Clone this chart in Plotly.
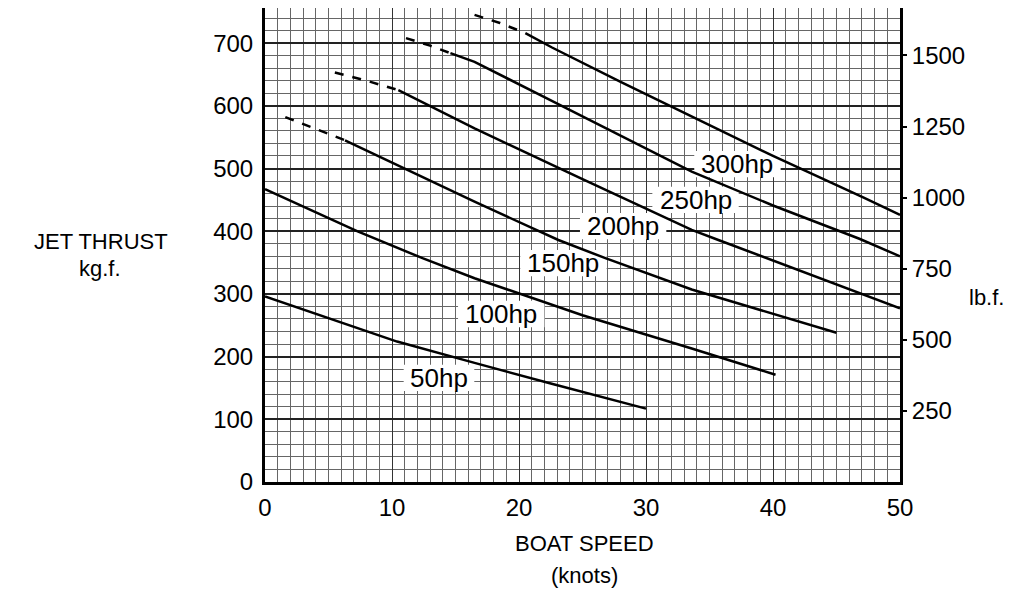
import plotly.graph_objects as go

# ---- data (boat speed in knots, jet thrust in kg.f.) ----
hp_labels = ["50hp", "100hp", "150hp", "200hp", "250hp", "300hp"]

speed_50 = [0, 5, 10.4, 16.5, 22.5, 30]
thrust_50 = [296, 261, 224, 190, 157, 117]

speed_100 = [0, 7.25, 12.4, 16.5, 25, 33.6, 40.2]
thrust_100 = [467, 400, 357, 325, 266, 213, 171]

speed_150_dash = [1.6, 4, 6.3]
thrust_150_dash = [582, 563, 545]
speed_150 = [6.3, 11, 16.5, 23.1, 26.8, 33.6, 40, 45]
thrust_150 = [545, 500, 447, 386, 357, 307, 268, 238]

speed_200_dash = [5.5, 8, 10.5]
thrust_200_dash = [653, 640, 625]
speed_200 = [10.5, 16.5, 25, 33.6, 35.7, 42, 50]
thrust_200 = [625, 564, 483, 402, 386, 338, 277]

speed_250_dash = [11.1, 13, 14.6]
thrust_250_dash = [708, 696, 684]
speed_250 = [14.6, 16.5, 22, 33.6, 40, 46.8, 50]
thrust_250 = [684, 670, 614, 495, 441, 388, 360]

speed_300_dash = [16.5, 18.5, 20.5]
thrust_300_dash = [745, 732, 716]
speed_300 = [20.5, 22.6, 28, 33.6, 40, 47.1, 50]
thrust_300 = [716, 693, 638, 583, 520, 454, 426]

label_speed = [13.7, 18.6, 23.5, 28.2, 33.9, 37.2]
label_thrust = [166, 268, 349, 408, 450, 507]

x_ticks = [0, 10, 20, 30, 40, 50]
y_ticks = [0, 100, 200, 300, 400, 500, 600, 700]
lb_ticks = [250, 500, 750, 1000, 1250, 1500]
KG_TO_LB = 2.20462
Y_MAX = 756

FONT = "Liberation Sans, Arial, Helvetica, sans-serif"

fig = go.Figure()

solid = [(speed_50, thrust_50), (speed_100, thrust_100), (speed_150, thrust_150),
         (speed_200, thrust_200), (speed_250, thrust_250), (speed_300, thrust_300)]
dashed = [(speed_150_dash, thrust_150_dash), (speed_200_dash, thrust_200_dash),
          (speed_250_dash, thrust_250_dash), (speed_300_dash, thrust_300_dash)]

for xs, ys in solid:
    fig.add_trace(go.Scatter(x=xs, y=ys, mode="lines", line=dict(color="black", width=2.5),
                             showlegend=False, hoverinfo="skip"))
for xs, ys in dashed:
    fig.add_trace(go.Scatter(x=xs, y=ys, mode="lines", line=dict(color="black", width=2.5, dash="dash"),
                             showlegend=False, hoverinfo="skip"))

# invisible trace for secondary axis
fig.add_trace(go.Scatter(x=[0], y=[0], yaxis="y2", mode="markers", marker=dict(opacity=0),
                         showlegend=False, hoverinfo="skip"))

# labels: white box between grid and curves, text on top
for txt, lx, ly in zip(hp_labels, label_speed, label_thrust):
    half_w = len(txt) * 0.62 + 0.3
    half_h = 21
    fig.add_shape(type="rect", xref="x", yref="y", x0=lx - half_w, x1=lx + half_w,
                  y0=ly - half_h, y1=ly + half_h, fillcolor="white", line=dict(width=0),
                  layer="between")
    fig.add_annotation(x=lx, y=ly, text=txt, showarrow=False,
                       font=dict(size=26, color="black", family=FONT))

# plot area in page pixels: x 265..900, y 8..482
def paper_x(px):
    return (px - 265) / 635

def paper_y(py):
    return (482 - py) / 474

titles = [("JET THRUST", 101, 242), ("kg.f.", 100, 268), ("lb.f.", 986, 297),
          ("BOAT SPEED", 584, 543), ("(knots)", 584, 575)]
for txt, px, py in titles:
    fig.add_annotation(x=paper_x(px), y=paper_y(py), xref="paper", yref="paper", text=txt,
                       xanchor="center", yanchor="middle",
                       showarrow=False, font=dict(size=22, color="black", family=FONT))

fig.update_layout(
    width=1033, height=594,
    margin=dict(l=257, r=141, t=0, b=120, autoexpand=False),
    paper_bgcolor="white", plot_bgcolor="white",
    font=dict(family=FONT, size=24, color="black"),
    xaxis=dict(range=[0, 50], tickvals=x_ticks, showgrid=True, gridcolor="#333", gridwidth=1,
               minor=dict(dtick=1, showgrid=True, gridcolor="#666", gridwidth=1),
               showline=True, linecolor="black", linewidth=3, mirror=True, zeroline=False,
               ticks="", ticklabelstandoff=2, automargin=False),
    yaxis=dict(range=[0, Y_MAX], tickvals=y_ticks, showgrid=True, gridcolor="#222", gridwidth=1.5,
               minor=dict(dtick=20, showgrid=True, gridcolor="#666", gridwidth=1),
               showline=True, linecolor="black", linewidth=3, mirror=True, zeroline=False,
               ticks="", ticklabelstandoff=4, automargin=False),
    yaxis2=dict(range=[0, Y_MAX * KG_TO_LB], tickvals=lb_ticks, overlaying="y", side="right",
                showgrid=False, zeroline=False, showline=False, ticks="outside", ticklen=6,
                tickcolor="black", tickwidth=1.5, automargin=False),
)

fig.write_html("out.html")
